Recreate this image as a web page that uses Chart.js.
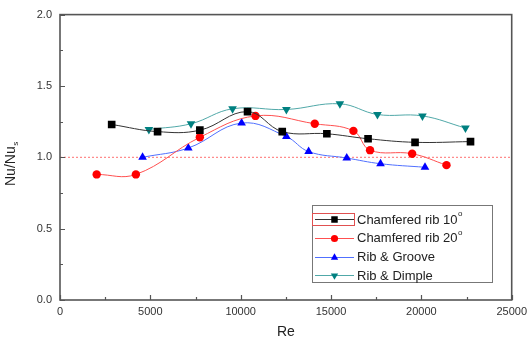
<!DOCTYPE html>
<html>
<head>
<meta charset="utf-8">
<script src="https://cdn.jsdelivr.net/npm/chart.js@4.4.1/dist/chart.umd.min.js"></script>
<style>
html,body{margin:0;padding:0;background:#fff;}
#c{display:block;}
</style>
</head>
<body>
<canvas id="c" width="532" height="343"></canvas>
<script>
// ---- data ----
const seriesNames = ['Chamfered rib 10°', 'Chamfered rib 20°', 'Rib & Groove', 'Rib & Dimple'];

const reRib10 = [2860, 5400, 7740, 10380, 12300, 14770, 17050, 19650, 22720];
const nuRib10 = [1.23, 1.18, 1.19, 1.32, 1.18, 1.165, 1.13, 1.105, 1.11];

const reRib20 = [2030, 4200, 7740, 10820, 14100, 16240, 17160, 19490, 21390];
const nuRib20 = [0.88, 0.88, 1.14, 1.29, 1.235, 1.185, 1.05, 1.025, 0.945];

const reGroove = [4570, 7100, 10050, 12530, 13760, 15870, 17740, 20200];
const nuGroove = [1.00, 1.065, 1.24, 1.145, 1.04, 0.995, 0.955, 0.93];

const reDimple = [4920, 7250, 9550, 12530, 15490, 17570, 20060, 22440];
const nuDimple = [1.195, 1.235, 1.34, 1.335, 1.375, 1.30, 1.29, 1.205];

const refLineX = [0, 25000];
const refLineY = [1.0, 1.0];

const xTicks = [0, 5000, 10000, 15000, 20000, 25000];
const yTicks = [0.0, 0.5, 1.0, 1.5, 2.0];

// ---- build datasets ----
function pts(xs, ys){ return xs.map((x,i)=>({x:x, y:ys[i]})); }

const styles = [
  {line:'#333333', fill:'#000000', pointStyle:'rect', radius:5.4, rotation:0},
  {line:'#ff5050', fill:'#ff0000', pointStyle:'circle', radius:4.2, rotation:0},
  {line:'#5070ff', fill:'#0000ff', pointStyle:'triangle', radius:5, rotation:0},
  {line:'#50a8a8', fill:'#008080', pointStyle:'triangle', radius:5, rotation:180}
];
const allData = [pts(reRib10,nuRib10), pts(reRib20,nuRib20), pts(reGroove,nuGroove), pts(reDimple,nuDimple)];

const datasets = allData.map((d,i)=>({
  label: seriesNames[i],
  data: d,
  showLine: true,
  tension: 0.4,
  borderColor: styles[i].line,
  borderWidth: 1,
  backgroundColor: styles[i].fill,
  pointBackgroundColor: styles[i].fill,
  pointBorderColor: styles[i].fill,
  pointBorderWidth: 0,
  pointStyle: styles[i].pointStyle,
  pointRotation: styles[i].rotation,
  pointRadius: styles[i].radius,
  pointHoverRadius: styles[i].radius,
  order: i
}));
datasets.unshift({
  label: 'ref',
  data: pts(refLineX, refLineY),
  showLine: true,
  borderColor: '#ff7070',
  borderWidth: 1,
  borderDash: [2, 2],
  pointRadius: 0,
  order: 10
});

// ---- plugins: frame, inward ticks, y title with subscript, legend ----
const FONT = '"Liberation Sans", Arial, sans-serif';
const framePlugin = {
  id: 'frame',
  afterDraw(chart){
    const ctx = chart.ctx;
    const a = chart.chartArea;
    const xs = chart.scales.x, ys = chart.scales.y;
    ctx.save();
    ctx.strokeStyle = '#555555';
    ctx.lineWidth = 1.6;
    ctx.strokeRect(a.left, a.top, a.right - a.left, a.bottom - a.top);
    ctx.lineWidth = 1.2;
    ctx.beginPath();
    for (let v = 0; v <= 25000; v += 2500) {
      const px = Math.round(xs.getPixelForValue(v)) + 0.5;
      const len = (v % 5000 === 0) ? 5 : 3;
      ctx.moveTo(px, a.bottom); ctx.lineTo(px, a.bottom - len);
    }
    for (let v = 0; v <= 2.0001; v += 0.25) {
      const py = Math.round(ys.getPixelForValue(v)) + 0.5;
      const len = (Math.abs(v*2 - Math.round(v*2)) < 1e-6) ? 5 : 3;
      ctx.moveTo(a.left, py); ctx.lineTo(a.left + len, py);
    }
    ctx.stroke();

    // y-axis title Nu/Nu_s
    ctx.fillStyle = '#222222';
    ctx.translate(15, 186);
    ctx.rotate(-Math.PI/2);
    ctx.font = '14px ' + FONT;
    ctx.textBaseline = 'alphabetic';
    ctx.textAlign = 'left';
    ctx.fillText('Nu/Nu', 0, 0);
    const w = ctx.measureText('Nu/Nu').width;
    ctx.font = '8px ' + FONT;
    ctx.fillText('s', w + 0.5, 3);
    ctx.restore();

    // legend
    ctx.save();
    const bx = 312, by = 205, bw = 180, bh = 77;
    ctx.fillStyle = '#ffffff';
    ctx.fillRect(bx, by, bw, bh);
    ctx.strokeStyle = '#777777';
    ctx.lineWidth = 1;
    ctx.strokeRect(bx + 0.5, by + 0.5, bw, bh);
    const rowY = [219, 237.5, 256.5, 275];
    ctx.textBaseline = 'middle';
    ctx.textAlign = 'left';
    for (let i = 0; i < 4; i++) {
      const y = Math.round(rowY[i]) + 0.5;
      ctx.strokeStyle = styles[i].line;
      ctx.lineWidth = 1;
      ctx.beginPath();
      ctx.moveTo(315, y); ctx.lineTo(354, y);
      ctx.stroke();
      ctx.fillStyle = styles[i].fill;
      ctx.strokeStyle = styles[i].fill;
      Chart.helpers.drawPoint(ctx, {
        pointStyle: styles[i].pointStyle,
        rotation: styles[i].rotation,
        radius: styles[i].radius * 0.85,
        borderWidth: 0
      }, 334.5, y);
      ctx.fillStyle = '#222222';
      ctx.font = '13px ' + FONT;
      const base = seriesNames[i].replace('°','');
      ctx.fillText(base, 357, rowY[i] + 1);
      if (seriesNames[i].indexOf('°') >= 0) {
        const tw = ctx.measureText(base).width;
        ctx.font = '8px ' + FONT;
        ctx.fillText('o', 357 + tw + 0.5, rowY[i] - 5);
      }
    }
    // selection box around first legend sample
    ctx.strokeStyle = '#e05050';
    ctx.lineWidth = 1;
    ctx.strokeRect(312.5, 213.5, 42, 12);
    ctx.restore();
  }
};

const chart = new Chart(document.getElementById('c'), {
  type: 'scatter',
  data: { datasets: datasets },
  options: {
    responsive: false,
    animation: false,
    devicePixelRatio: 1,
    layout: { padding: { top: 12, right: 20, left: 0, bottom: 0 } },
    plugins: { legend: { display: false }, tooltip: { enabled: false } },
    scales: {
      x: {
        type: 'linear',
        min: 0, max: 25000,
        afterFit(s){ s.height = 43; },
        afterBuildTicks(s){ s.ticks = xTicks.map(v=>({value:v})); },
        grid: { display: false, drawTicks: false },
        border: { display: false },
        ticks: {
          autoSkip: false, maxRotation: 0, padding: 5,
          color: '#333333',
          font: { family: FONT, size: 11 },
          callback: v => String(v)
        },
        title: {
          display: true, text: 'Re', color: '#222222',
          font: { family: FONT, size: 14 },
          padding: { top: 0, bottom: 2 }
        }
      },
      y: {
        type: 'linear',
        min: 0, max: 2,
        afterFit(s){ s.width = 60; },
        afterBuildTicks(s){ s.ticks = yTicks.map(v=>({value:v})); },
        grid: { display: false, drawTicks: false },
        border: { display: false },
        ticks: {
          padding: 8,
          color: '#333333',
          font: { family: FONT, size: 11 },
          callback: v => Number(v).toFixed(1)
        }
      }
    }
  },
  plugins: [framePlugin]
});
</script>
</body>
</html>
